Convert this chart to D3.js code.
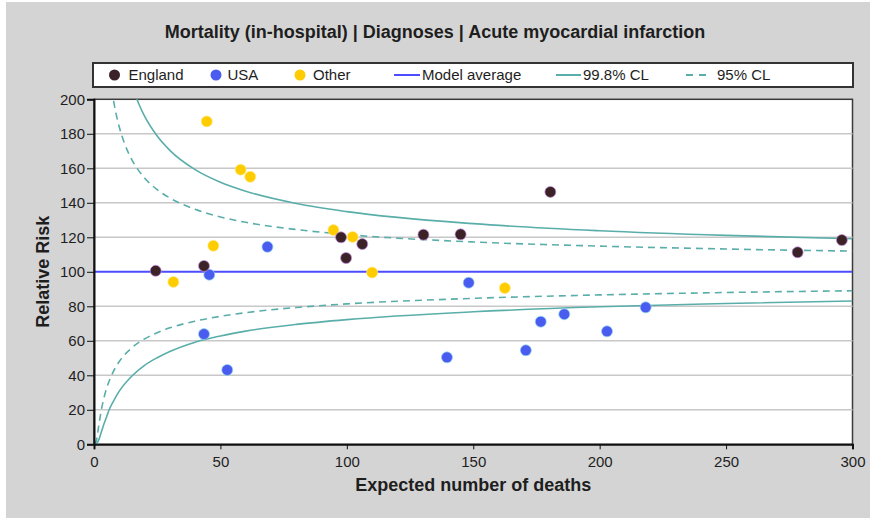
<!DOCTYPE html>
<html>
<head>
<meta charset="utf-8">
<script src="https://cdn.jsdelivr.net/npm/d3@7"></script>
<style>
  body { margin: 0; background: #fff; }
  svg text { font-family: Arial, "Liberation Sans", sans-serif; fill: #1e1e1e; }
</style>
</head>
<body>
<div id="chart-container"></div>
<script>
const WIDTH = 870;
const HEIGHT = 518;
const MARGIN = { top: 99.3, right: 17.5, bottom: 73.7, left: 94 };
const TITLE = 'Mortality (in-hospital) | Diagnoses | Acute myocardial infarction';
const X_LABEL = 'Expected number of deaths';
const Y_LABEL = 'Relative Risk';
const X_TICKS = [0, 50, 100, 150, 200, 250, 300];
const Y_TICKS = [0, 20, 40, 60, 80, 100, 120, 140, 160, 180, 200];
const MODEL_AVERAGE = 100;

// [expected deaths, relative risk]
const ENGLAND = [[24.4, 100.6], [43.5, 103.4], [97.7, 120], [99.7, 108], [106.1, 116.1],
  [130.3, 121.5], [145, 121.7], [180.5, 146.3], [278.3, 111.3], [295.8, 118.4]];
const USA = [[45.6, 98.3], [43.5, 63.9], [52.7, 43.1], [68.6, 114.5], [148.2, 93.7], [139.6, 50.4],
  [170.8, 54.5], [176.7, 71.1], [186, 75.4], [202.9, 65.5], [218.2, 79.4]];
const OTHER = [[44.6, 187.2], [58, 159.2], [61.8, 155.1], [47.2, 115.1], [31.4, 94.1],
  [94.7, 124.2], [102.3, 120.2], [110, 99.6], [162.5, 90.6]];

// control limits
const UPPER_998 = [[15, 208.3], [16, 203.9], [18, 196.4], [20, 190.2], [25, 178.7], [30, 170.4], [40, 159.2],
  [50, 151.9], [60, 146.7], [80, 139.6], [100, 134.9], [150, 127.9], [200, 123.8], [250, 121.1], [300, 119.2]];
const LOWER_998 = [[0.8, 0], [1, 0.3], [2, 3], [3, 7.5], [4, 12], [5, 16], [6, 20], [7.5, 24.5], [10, 30.8],
  [15, 39.6], [20, 45.8], [25, 50.2], [30, 53.8], [40, 59.2], [50, 62.8], [60, 65.6], [80, 69.5],
  [100, 72.3], [150, 76.8], [200, 79.7], [250, 81.6], [300, 83.1]];
const UPPER_95 = [[7, 206], [8, 197], [9, 189.8], [10, 183.9], [12, 174.7], [15, 164.9], [20, 154.4], [25, 147.6],
  [30, 142.8], [40, 136.2], [50, 131.8], [60, 128.7], [80, 124.5], [100, 121.6], [150, 117.3], [200, 114.9],
  [250, 113.2], [300, 112]];
const LOWER_95 = [[0.4, 0], [1, 2.5], [2, 12.1], [3, 20.6], [4, 27.3], [5, 32.5], [6, 36.7], [7.5, 41.7], [10, 48],
  [15, 56], [20, 61.1], [25, 64.7], [30, 67.5], [40, 71.4], [50, 74.2], [60, 76.3], [80, 79.3], [100, 81.4],
  [150, 84.6], [200, 86.6], [250, 88], [300, 89]];

const COLORS = { England: '#3a2226', USA: '#4a5cf0', Other: '#ffcc00' };
const HALO = { England: '#c88ce0', USA: '#8fd4ec', Other: '#ffe98a' };
const CL_COLOR = '#5aaeaa';
const AVG_COLOR = '#4d4dff';

const svg = d3.select('#chart-container').append('svg')
  .attr('width', WIDTH)
  .attr('height', HEIGHT);

svg.append('rect')
  .attr('x', 6).attr('y', 2)
  .attr('width', WIDTH - 6).attr('height', HEIGHT - 2)
  .attr('fill', '#d4d4d4');

svg.append('text')
  .attr('x', 435).attr('y', 37.5)
  .attr('text-anchor', 'middle')
  .style('font-size', '18px').style('font-weight', 'bold')
  .text(TITLE);

const x = d3.scaleLinear().domain([0, 300]).range([MARGIN.left, WIDTH - MARGIN.right]);
const y = d3.scaleLinear().domain([0, 200]).range([HEIGHT - MARGIN.bottom, MARGIN.top]);

svg.append('rect')
  .attr('x', x(0)).attr('y', y(200))
  .attr('width', x(300) - x(0)).attr('height', y(0) - y(200))
  .attr('fill', 'white')
  .attr('stroke', '#3a3a3a')
  .attr('stroke-width', 1.5);

svg.append('defs').append('clipPath')
  .attr('id', 'plot-clip')
  .append('rect')
  .attr('x', x(0)).attr('y', y(200))
  .attr('width', x(300) - x(0)).attr('height', y(0) - y(200));

// gridlines
svg.append('g')
  .selectAll('line')
  .data(Y_TICKS.filter(d => d > 0 && d < 200 && d !== MODEL_AVERAGE))
  .enter()
  .append('line')
  .attr('x1', x(0)).attr('x2', x(300))
  .attr('y1', d => y(d)).attr('y2', d => y(d))
  .attr('stroke', '#c8c8c8')
  .attr('stroke-width', 1.5);

const plot = svg.append('g').attr('clip-path', 'url(#plot-clip)');

plot.append('line')
  .attr('x1', x(0)).attr('x2', x(300))
  .attr('y1', y(MODEL_AVERAGE)).attr('y2', y(MODEL_AVERAGE))
  .attr('stroke', AVG_COLOR)
  .attr('stroke-width', 2);

const line = d3.line()
  .x(d => x(d[0]))
  .y(d => y(d[1]))
  .curve(d3.curveMonotoneX);

[[UPPER_998, null], [LOWER_998, null], [UPPER_95, '7,5'], [LOWER_95, '7,5']].forEach(([data, dash]) => {
  plot.append('path')
    .datum(data)
    .attr('d', line)
    .attr('fill', 'none')
    .attr('stroke', CL_COLOR)
    .attr('stroke-width', 1.6)
    .attr('stroke-dasharray', dash);
});

[['USA', USA], ['Other', OTHER], ['England', ENGLAND]].forEach(([name, data]) => {
  plot.append('g')
    .selectAll('circle')
    .data(data)
    .enter()
    .append('circle')
    .attr('cx', d => x(d[0]))
    .attr('cy', d => y(d[1]))
    .attr('r', 5.5)
    .attr('fill', COLORS[name])
    .attr('stroke', HALO[name])
    .attr('stroke-opacity', 0.7)
    .attr('stroke-width', 1);
});

const xAxis = svg.append('g')
  .attr('transform', `translate(0, ${y(0)})`)
  .call(d3.axisBottom(x).tickValues(X_TICKS).tickSize(5).tickPadding(7));
const yAxis = svg.append('g')
  .attr('transform', `translate(${x(0)}, 0)`)
  .call(d3.axisLeft(y).tickValues(Y_TICKS).tickSize(7).tickPadding(2));
[xAxis, yAxis].forEach(axis => {
  axis.select('.domain').attr('stroke', '#111').attr('stroke-width', 2);
  axis.selectAll('.tick line').attr('stroke', '#111');
  axis.selectAll('.tick text')
    .attr('fill', '#1e1e1e')
    .style('font-size', '15px')
    .style('font-family', 'Arial, "Liberation Sans", sans-serif');
});

svg.append('text')
  .attr('x', (x(0) + x(300)) / 2).attr('y', 491)
  .attr('text-anchor', 'middle')
  .style('font-size', '18px').style('font-weight', 'bold')
  .text(X_LABEL);

svg.append('text')
  .attr('transform', `translate(48.5, ${(y(0) + y(200)) / 2}) rotate(-90)`)
  .attr('text-anchor', 'middle')
  .style('font-size', '18px').style('font-weight', 'bold')
  .text(Y_LABEL);

// legend
const legend = svg.append('g').attr('id', 'legend');
legend.append('rect')
  .attr('x', 93).attr('y', 63)
  .attr('width', 760).attr('height', 24)
  .attr('fill', 'white')
  .attr('stroke', '#333')
  .attr('stroke-width', 2);

const LEGEND_Y = 75;
[['England', 114.5, 128.5], ['USA', 216, 227.5], ['Other', 300, 313]].forEach(([name, cx, tx]) => {
  legend.append('circle')
    .attr('cx', cx).attr('cy', LEGEND_Y).attr('r', 5.5)
    .attr('fill', COLORS[name]);
  legend.append('text')
    .attr('x', tx).attr('y', LEGEND_Y + 5.4)
    .style('font-size', '15px')
    .text(name);
});
[['Model average', AVG_COLOR, null, 394, 420, 422], ['99.8% CL', CL_COLOR, null, 556, 581, 583],
  ['95% CL', CL_COLOR, '7,6', 686, 711, 717]].forEach(([name, color, dash, x1, x2, tx]) => {
  legend.append('line')
    .attr('x1', x1).attr('x2', x2)
    .attr('y1', LEGEND_Y).attr('y2', LEGEND_Y)
    .attr('stroke', color)
    .attr('stroke-width', 2)
    .attr('stroke-dasharray', dash);
  legend.append('text')
    .attr('x', tx).attr('y', LEGEND_Y + 5.4)
    .style('font-size', '15px')
    .text(name);
});
</script>
</body>
</html>
